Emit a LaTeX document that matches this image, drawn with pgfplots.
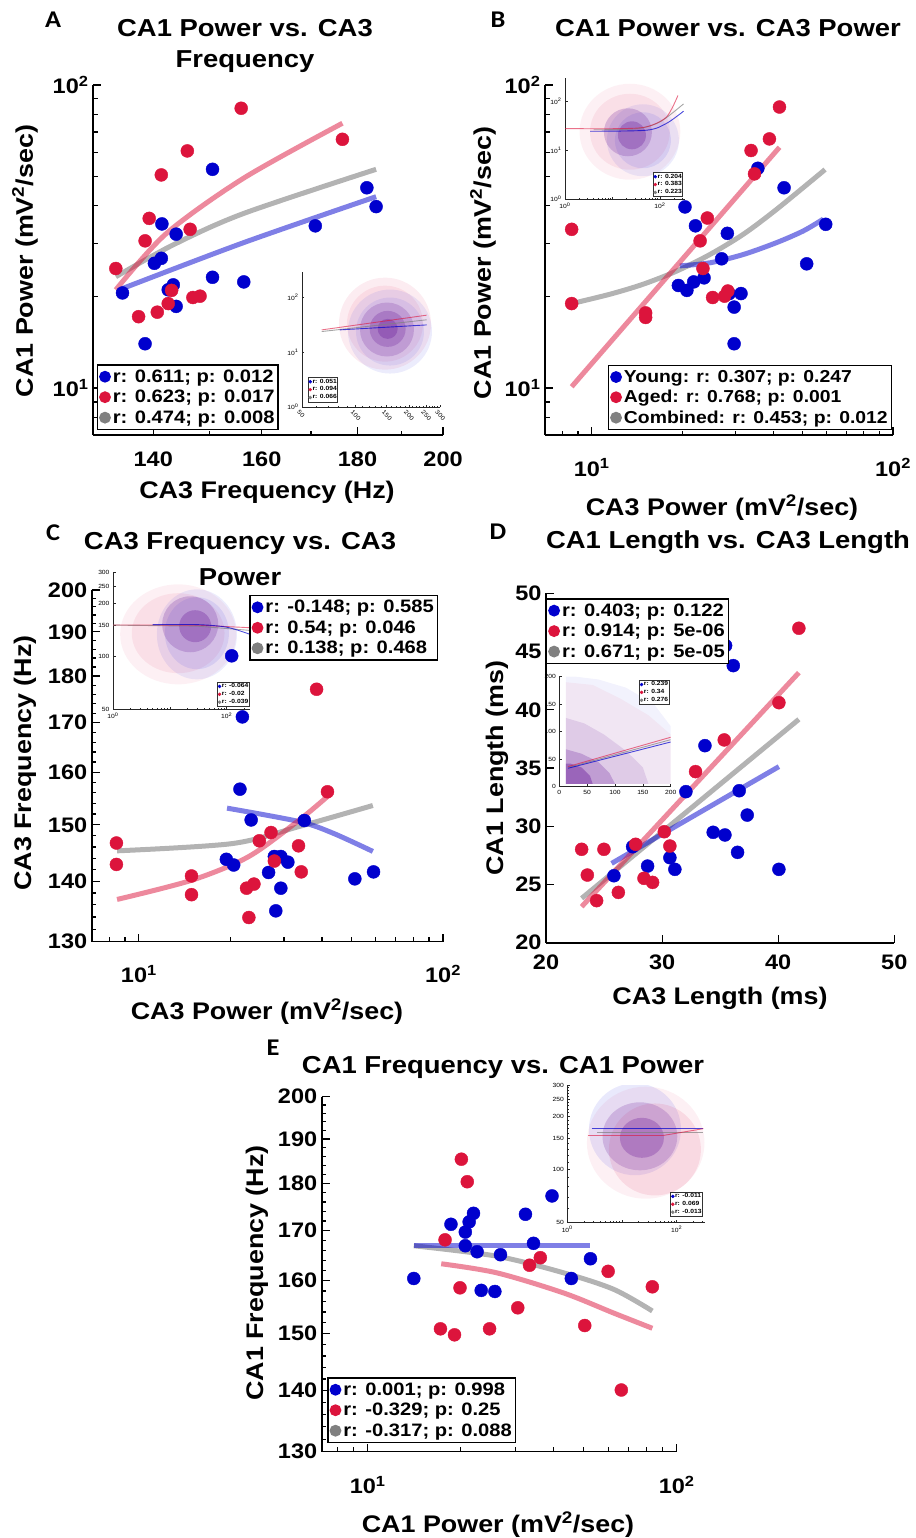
\documentclass[border=0pt]{standalone}
\usepackage{pgfplots}
\pgfplotsset{compat=1.18}
\usepackage{fontspec}
\setmainfont{Liberation Sans}[FakeStretch=1.12]
\newfontfamily\letterfont{Carlito}[FakeStretch=1.1]
\definecolor{myblue}{RGB}{0,0,205}
\definecolor{myred}{RGB}{220,20,60}
\definecolor{mygray}{RGB}{128,128,128}
\definecolor{cred}{RGB}{228,70,115}
\definecolor{cblue}{RGB}{70,70,228}
\definecolor{ccore}{RGB}{100,20,150}
\newcommand\ttl{\fontsize{24.5}{29}\selectfont\bfseries}
\newcommand\lbl{\fontsize{24}{28}\selectfont\bfseries}
\newcommand\tck{\fontsize{21}{24}\selectfont\bfseries}
\newcommand\lgd{\fontsize{18}{21}\selectfont\bfseries}
\newcommand\lgdb{\fontsize{17.3}{21}\selectfont\bfseries}
\newcommand\itk{\fontsize{6}{7}\selectfont}
\newcommand\ilg{\fontsize{6}{7}\selectfont\bfseries}
\newcommand\ltr{\fontsize{24}{27}\selectfont\letterfont\bfseries}
\pgfplotsset{
 mainax/.style={scale only axis, axis x line*=bottom, axis y line*=left,
   axis line style={line width=1.6pt, black}, tick align=inside,
   major tick length=8pt, minor tick length=4.5pt,
   every tick/.append style={line width=1.2pt, black},
   tick label style={font=\tck},
   xticklabel shift=9pt, yticklabel shift=1pt,
   legend cell align=left,
   legend image code/.code={\fill[##1] (0pt,0pt) circle (5.2pt);},
   legend style={font=\lgd, draw=black, line width=1.4pt, fill=white, inner sep=1.5pt, row sep=0pt,
      nodes={inner xsep=2pt, inner ysep=3.2pt}}},
 inax/.style={scale only axis, axis x line*=bottom, axis y line*=left,
   axis line style={line width=0.8pt, black!85}, tick align=inside,
   major tick length=2.5pt, minor tick length=1.4pt,
   every tick/.append style={line width=0.5pt, black!85},
   tick label style={font=\itk}, clip marker paths=true,
   legend cell align=left,
   legend image code/.code={\fill[##1] (0pt,0pt) circle (1.5pt);},
   legend style={font=\ilg, draw=black!80, line width=0.5pt, fill=white, inner sep=0.3pt, row sep=0pt,
      nodes={inner xsep=0.6pt, inner ysep=1.1pt}}},
 bp/.style={only marks, mark=*, mark size=6.5pt, color=myblue},
 rp/.style={only marks, mark=*, mark size=6.5pt, color=myred},
 fb/.style={no markers, line width=5pt, color=myblue, draw opacity=0.5, forget plot},
 fr/.style={no markers, line width=5pt, color=myred, draw opacity=0.5, forget plot},
 fg/.style={no markers, line width=5pt, color=mygray, draw opacity=0.6, forget plot},
 cl/.style n args={4}{only marks, mark=*, forget plot, mark size=#1, color=#2,
   mark options={draw opacity=0, line width=0pt, fill=#2, fill opacity=#3, xscale=#4}},
 ib/.style={no markers, line width=0.9pt, color=myblue, draw opacity=0.7, forget plot},
 ir/.style={no markers, line width=0.9pt, color=myred, draw opacity=0.6, forget plot},
 ig/.style={no markers, line width=0.9pt, color=mygray, draw opacity=0.7, forget plot},
}
\begin{document}
\begin{tikzpicture}
\path[use as bounding box] (0pt,0pt) rectangle (915pt,-1538pt);

% ---------------- insets (drawn first) ----------------
% Inset A
\begin{axis}[inax, at={(302pt,-407pt)}, anchor=south west, width=138pt, height=135pt,
 xmode=log, ymode=log, xmin=50, xmax=300, ymin=1, ymax=288,
 xtick={50,100,150,200,250,300}, xticklabels={50,100,150,200,250,300},
 xticklabel style={rotate=-45, anchor=north west, xshift=-3pt},
 minor xtick={60,70,80,90,110,120,130,140,160,170,180,190,210,220,230,240,260,270,280,290},
 ytick={1,10,100}, yticklabels={10\textsuperscript{0},10\textsuperscript{1},10\textsuperscript{2}},
 minor ytick={2,3,4,5,6,7,8,9,20,30,40,50,60,70,80,90,200},
 legend style={at={(0.043,0.037)}, anchor=south west}]
\addplot[cl={46pt}{cred}{0.1}{1}] coordinates {(146.9,33.0)};
\addplot[cl={38pt}{cred}{0.1}{1}] coordinates {(146.9,33.0)};
\addplot[cl={42pt}{cblue}{0.1}{1}] coordinates {(156.7,23.7)};
\addplot[cl={34pt}{cblue}{0.1}{1}] coordinates {(156.7,23.7)};
\addplot[cl={27pt}{ccore}{0.2}{1}] coordinates {(150.7,25.8)};
\addplot[cl={18pt}{ccore}{0.25}{1}] coordinates {(152,26.5)};
\addplot[cl={10pt}{ccore}{0.3}{1}] coordinates {(152,26.5)};
\addplot[ig] coordinates {(64.6,23.7) (252.3,38.8)};
\addplot[ib] coordinates {(81.8,25.4) (252.3,31.3)};
\addplot[ir] coordinates {(64.6,25.4) (252.3,47.1)};
\addlegendimage{only marks, mark=*, color=myblue}\addlegendentry{r: 0.051}
\addlegendimage{only marks, mark=*, color=myred}\addlegendentry{r: 0.094}
\addlegendimage{only marks, mark=*, color=mygray}\addlegendentry{r: 0.066}
\end{axis}

% Inset B
\begin{axis}[inax, at={(565pt,-199pt)}, anchor=south west, width=120pt, height=121pt,
 xmode=log, ymode=log, xmin=1, xmax=339, ymin=1, ymax=302,
 xtick={1,10,100}, xticklabels={10\textsuperscript{0},,10\textsuperscript{2}},
 minor xtick={2,3,4,5,6,7,8,9,20,30,40,50,60,70,80,90,200,300},
 ytick={1,10,100}, yticklabels={10\textsuperscript{0},10\textsuperscript{1},10\textsuperscript{2}},
 minor ytick={2,3,4,5,6,7,8,9,20,30,40,50,60,70,80,90,200,300},
 legend style={at={(0.983,0.017)}, anchor=south east}]
\addplot[cl={48pt}{cred}{0.08}{1.05}] coordinates {(23.4,23.9)};
\addplot[cl={38pt}{cred}{0.1}{1.05}] coordinates {(23.4,23.9)};
\addplot[cl={36pt}{cblue}{0.1}{1}] coordinates {(43.9,16.0)};
\addplot[cl={28pt}{cblue}{0.12}{1}] coordinates {(43.9,16.0)};
\addplot[cl={24pt}{ccore}{0.22}{1}] coordinates {(21.2,23.3)};
\addplot[cl={14pt}{ccore}{0.3}{1}] coordinates {(25.8,20.2)};
\addplot[ig, smooth] coordinates {(4,26.3) (31.6,27.5) (100,38.0) (316,89.1)};
\addplot[ib, smooth] coordinates {(3.4,24.5) (52.5,25.7) (138,35.5) (316,63.1)};
\addplot[ir, smooth] coordinates {(1,27.7) (14.4,27.7) (52.5,30.2) (138,47.9) (240,132)};
\addlegendimage{only marks, mark=*, color=myblue}\addlegendentry{r: 0.204}
\addlegendimage{only marks, mark=*, color=myred}\addlegendentry{r: 0.383}
\addlegendimage{only marks, mark=*, color=mygray}\addlegendentry{r: 0.223}
\end{axis}

% Inset C
\begin{axis}[inax, at={(113pt,-709.3pt)}, anchor=south west, width=137pt, height=137.3pt,
 xmode=log, ymode=log, xmin=1, xmax=257, ymin=50, ymax=300,
 xtick={1,10,100}, xticklabels={10\textsuperscript{0},,10\textsuperscript{2}},
 minor xtick={2,3,4,5,6,7,8,9,20,30,40,50,60,70,80,90,200},
 ytick={50,100,150,200,250,300}, yticklabels={50,100,150,200,250,300},
 minor ytick={60,70,80,90,110,120,130,140,160,170,180,190,210,220,230,240,260,270,280,290},
 legend style={at={(0.996,0.019)}, anchor=south east}]
\addplot[cl={50pt}{cred}{0.08}{1.16}] coordinates {(14.0,133)};
\addplot[cl={40pt}{cred}{0.1}{1.16}] coordinates {(14.0,135)};
\addplot[cl={45pt}{cblue}{0.1}{0.89}] coordinates {(29.9,133)};
\addplot[cl={36pt}{cblue}{0.12}{0.89}] coordinates {(29.9,135)};
\addplot[cl={28pt}{ccore}{0.22}{1}] coordinates {(22.8,151.7)};
\addplot[cl={16pt}{ccore}{0.3}{1}] coordinates {(27.9,147.9)};
\addplot[ig] coordinates {(1,150) (30,148) (257,140)};
\addplot[ir] coordinates {(1,150.3) (30,150) (257,145)};
\addplot[ib, smooth] coordinates {(5,151) (30,151) (100,146) (257,133)};
\addlegendimage{only marks, mark=*, color=myblue}\addlegendentry{r: -0.064}
\addlegendimage{only marks, mark=*, color=myred}\addlegendentry{r: -0.02}
\addlegendimage{only marks, mark=*, color=mygray}\addlegendentry{r: -0.039}
\end{axis}

% Inset D
\begin{axis}[inax, at={(559.3pt,-786.7pt)}, anchor=south west, width=111.4pt, height=110pt,
 xmin=0, xmax=200, ymin=0, ymax=200,
 xtick={0,50,100,150,200}, xticklabels={0,50,100,150,200},
 ytick={0,50,100,150,200}, yticklabels={0,50,100,150,200},
 legend style={at={(0.987,0.97)}, anchor=north east}]
\addplot[fill=cblue, fill opacity=0.07, draw=none, forget plot] coordinates {(12,5) (200,5) (200,110) (170,150) (120,180) (70,195) (30,200) (12,200)} -- cycle;
\addplot[fill=cred, fill opacity=0.07, draw=none, forget plot] coordinates {(12,5) (200,5) (200,95) (160,130) (110,160) (60,185) (12,190)} -- cycle;
\addplot[fill=ccore, fill opacity=0.13, draw=none, forget plot] coordinates {(12,5) (160,5) (150,35) (120,65) (80,95) (45,115) (12,125)} -- cycle;
\addplot[fill=ccore, fill opacity=0.25, draw=none, forget plot] coordinates {(12,5) (100,5) (90,25) (70,45) (40,60) (12,68)} -- cycle;
\addplot[fill=ccore, fill opacity=0.4, draw=none, forget plot] coordinates {(12,5) (60,5) (55,20) (40,35) (20,42) (12,42)} -- cycle;
\addplot[ig] coordinates {(16,35) (200,85.5)};
\addplot[ib] coordinates {(16,33.6) (200,81.3)};
\addplot[ir] coordinates {(16,36.7) (200,89.9)};
\addlegendimage{only marks, mark=*, color=myblue}\addlegendentry{r: 0.239}
\addlegendimage{only marks, mark=*, color=myred}\addlegendentry{r: 0.34}
\addlegendimage{only marks, mark=*, color=mygray}\addlegendentry{r: 0.276}
\end{axis}

% Inset E
\begin{axis}[inax, at={(567.3pt,-1222.7pt)}, anchor=south west, width=137.7pt, height=137.7pt,
 xmode=log, ymode=log, xmin=1, xmax=331, ymin=50, ymax=300,
 xtick={1,10,100}, xticklabels={10\textsuperscript{0},,10\textsuperscript{2}},
 minor xtick={2,3,4,5,6,7,8,9,20,30,40,50,60,70,80,90,200,300},
 ytick={50,100,150,200,250,300}, yticklabels={50,100,150,200,250,300},
 minor ytick={60,70,80,90,110,120,130,140,160,170,180,190,210,220,230,240,260,270,280,290},
 legend style={at={(0.983,0.044)}, anchor=south east}]
\addplot[cl={56pt}{cred}{0.08}{1.05}] coordinates {(27.2,141.6)};
\addplot[cl={46pt}{cblue}{0.12}{1}] coordinates {(17.3,168.7)};
\addplot[cl={46pt}{cred}{0.14}{1}] coordinates {(40.1,129.7)};
\addplot[cl={34pt}{ccore}{0.2}{1.1}] coordinates {(21.3,153.9)};
\addplot[cl={20pt}{ccore}{0.28}{1.1}] coordinates {(23.2,150.9)};
\addplot[ig] coordinates {(3.5,161) (309,161)};
\addplot[ib] coordinates {(2.8,170) (309,170)};
\addplot[ir] coordinates {(2.4,155.6) (56.9,155.6) (309,170)};
\addlegendimage{only marks, mark=*, color=myblue}\addlegendentry{r: -0.011}
\addlegendimage{only marks, mark=*, color=myred}\addlegendentry{r: 0.069}
\addlegendimage{only marks, mark=*, color=mygray}\addlegendentry{r: -0.013}
\end{axis}

% ---------------- Panel A ----------------
\begin{axis}[mainax, at={(93pt,-435pt)}, anchor=south west, width=350pt, height=350pt,
 xmode=log, ymode=log, xmin=130, xmax=200, ymin=7, ymax=100,
 xtick={140,160,180,200}, xticklabels={140,160,180,200}, minor xtick={130,150,170,190},
 xticklabel shift=13pt,
 ytick={10,100}, yticklabels={10\textsuperscript{1},10\textsuperscript{2}},
 minor ytick={7,8,9,20,30,40,50,60,70,80,90},
 legend style={at={(0.011,0.014)}, anchor=south west}]
\addplot[bp] coordinates {(134.8,20.6) (138.6,14.0) (141.5,34.8) (144.0,32.2) (140.2,25.8) (141.4,26.8) (142.6,21.1) (143.5,21.9) (144.0,18.6) (150.6,52.7) (150.6,23.2) (156.5,22.4) (170.9,34.3) (182.1,45.8) (184.2,39.7)};
\addlegendentry{r: 0.611; p: 0.012}
\addplot[rp] coordinates {(133.7,24.8) (137.5,17.2) (138.6,30.6) (139.3,36.3) (140.7,17.8) (141.4,50.5) (142.6,19.0) (143.2,21.0) (146.0,60.6) (146.5,33.4) (147.0,19.9) (148.3,20.1) (156.0,83.8) (176.7,66.2)};
\addlegendentry{r: 0.623; p: 0.017}
\addlegendimage{only marks, mark=*, color=mygray}
\addlegendentry{r: 0.474; p: 0.008}
\addplot[fg, smooth] coordinates {(133.7,23.3) (143.5,29.7) (156.5,37.7) (184.2,52.7)};
\addplot[fb, smooth] coordinates {(134.8,21.3) (156.5,30.2) (184.2,42.8)};
\addplot[fr, smooth] coordinates {(133.7,21.1) (142.3,32.4) (156.5,49.3) (176.7,74.8)};
\end{axis}

% ---------------- Panel B ----------------
\begin{axis}[mainax, at={(545pt,-435pt)}, anchor=south west, width=348pt, height=350pt,
 xmode=log, ymode=log, xmin=7, xmax=100, ymin=7, ymax=100,
 xtick={10,100}, xticklabels={10\textsuperscript{1},10\textsuperscript{2}},
 minor xtick={7,8,9,20,30,40,50,60,70,80,90}, xticklabel shift=20pt,
 ytick={10,100}, yticklabels={10\textsuperscript{1},10\textsuperscript{2}},
 minor ytick={7,8,9,20,30,40,50,60,70,80,90},
 legend style={at={(0.997,0.014)}, anchor=south east, font=\lgdb}]
\addplot[bp] coordinates {(20.4,39.6) (22.1,34.3) (19.4,21.8) (20.7,21.0) (21.8,22.4) (23.6,23.1) (27.0,26.7) (28.2,32.4) (28.6,20.5) (31.3,20.5) (29.7,18.5) (29.7,14.0) (35.6,53.1) (43.5,45.8) (51.7,25.7) (59.8,34.7)};
\addlegendentry{Young: r: 0.307; p: 0.247}
\addplot[rp] coordinates {(8.58,33.4) (8.58,19.0) (15.1,17.7) (15.1,17.1) (22.9,30.6) (24.2,36.4) (23.4,24.8) (25.2,19.9) (27.6,20.1) (28.3,20.9) (33.8,60.8) (34.7,50.9) (38.9,66.4) (42.0,84.6)};
\addlegendentry{Aged: r: 0.768; p: 0.001}
\addlegendimage{only marks, mark=*, color=mygray}
\addlegendentry{Combined: r: 0.453; p: 0.012}
\addplot[fg, smooth] coordinates {(8.58,19.0) (11.5,20.4) (14.8,22.0) (19.1,24.3) (24.7,27.6) (31.9,32.2) (41.1,38.9) (59.5,52.6)};
\addplot[fb, smooth] coordinates {(19.6,25.3) (24.7,25.9) (31.9,27.6) (41.1,30.2) (50.4,33.0) (58.7,36.1)};
\addplot[fr] coordinates {(8.58,10.1) (42.0,62.3)};
\end{axis}

% ---------------- Panel C ----------------
\begin{axis}[mainax, at={(91.7pt,-941.7pt)}, anchor=south west, width=351.3pt, height=351.7pt,
 xmode=log, ymode=log, xmin=7, xmax=100, ymin=130, ymax=200,
 xtick={10,100}, xticklabels={10\textsuperscript{1},10\textsuperscript{2}},
 minor xtick={7,8,9,20,30,40,50,60,70,80,90}, xticklabel shift=20pt,
 ytick={130,140,150,160,170,180,190,200}, yticklabels={130,140,150,160,170,180,190,200},
 minor ytick={132,134,136,138,142,144,146,148,152,154,156,158,162,164,166,168,172,174,176,178,182,184,186,188,192,194,196,198},
 legend style={at={(0.986,0.986)}, anchor=north east}]
\addplot[bp] coordinates {(20.2,184.5) (21.9,171.2) (21.5,156.7) (23.4,150.9) (19.4,143.8) (20.5,142.8) (26.7,141.5) (27.9,144.3) (29.3,144.3) (30.9,143.3) (29.3,138.8) (28.2,135.0) (35.0,150.8) (51.3,140.4) (59.1,141.6)};
\addlegendentry{r: -0.148; p: 0.585}
\addplot[rp] coordinates {(8.44,146.7) (8.44,142.9) (14.9,140.9) (14.9,137.7) (22.6,138.8) (23.9,139.5) (23.0,133.9) (24.9,147.1) (27.2,148.6) (27.9,143.5) (33.5,146.2) (34.2,141.6) (38.4,177.1) (41.7,156.2)};
\addlegendentry{r: 0.54; p: 0.046}
\addlegendimage{only marks, mark=*, color=mygray}
\addlegendentry{r: 0.138; p: 0.468}
\addplot[fg, smooth] coordinates {(8.48,145.3) (20.3,146.6) (33.7,149.7) (58.8,153.6)};
\addplot[fb, smooth] coordinates {(19.5,153.1) (33.7,150.6) (43.4,148.5) (58.8,145.2)};
\addplot[fr, smooth] coordinates {(8.48,136.9) (15.0,140.2) (23.0,144.3) (33.7,150.9) (41.7,155.3)};
\end{axis}

% ---------------- Panel D ----------------
\begin{axis}[mainax, at={(546pt,-942.7pt)}, anchor=south west, width=348.3pt, height=349.4pt,
 xmin=20, xmax=50, ymin=20, ymax=50,
 xtick={20,30,40,50}, xticklabels={20,30,40,50},
 ytick={20,25,30,35,40,45,50}, yticklabels={20,25,30,35,40,45,50},
 legend style={at={(0,0.986)}, anchor=north west}]
\addplot[bp] coordinates {(25.85,25.75) (27.46,28.24) (28.75,26.58) (30.67,27.30) (31.10,26.30) (32.05,32.97) (33.69,36.92) (34.40,29.48) (35.41,29.25) (35.18,45.57) (35.47,45.51) (36.13,43.79) (36.50,27.76) (36.64,33.05) (37.33,30.96) (40.06,26.30)};
\addlegendentry{r: 0.403; p: 0.122}
\addplot[rp] coordinates {(23.07,28.02) (23.56,25.81) (24.36,23.61) (24.99,28.02) (26.23,24.32) (27.72,28.45) (28.44,25.53) (29.18,25.18) (30.19,29.53) (30.67,28.30) (32.88,34.69) (35.35,37.41) (40.06,40.61) (41.78,47.00)};
\addlegendentry{r: 0.914; p: 5e-06}
\addlegendimage{only marks, mark=*, color=mygray}
\addlegendentry{r: 0.671; p: 5e-05}
\addplot[fg] coordinates {(23.07,23.81) (41.78,39.18)};
\addplot[fb] coordinates {(25.65,26.81) (40.06,35.12)};
\addplot[fr] coordinates {(23.07,23.09) (41.78,43.19)};
\end{axis}

% ---------------- Panel E ----------------
\begin{axis}[mainax, at={(321.7pt,-1451.7pt)}, anchor=south west, width=355pt, height=355pt,
 xmode=log, ymode=log, xmin=7.1, xmax=100, ymin=130, ymax=200,
 xtick={10,100}, xticklabels={10\textsuperscript{1},10\textsuperscript{2}},
 minor xtick={8,9,20,30,40,50,60,70,80,90}, xticklabel shift=21pt,
 ytick={130,140,150,160,170,180,190,200}, yticklabels={130,140,150,160,170,180,190,200},
 minor ytick={132,134,136,138,142,144,146,148,152,154,156,158,162,164,166,168,172,174,176,178,182,184,186,188,192,194,196,198},
 legend style={at={(0.016,0.024)}, anchor=south west}]
\addplot[bp] coordinates {(14.1,160.4) (18.6,171.3) (20.7,169.7) (21.3,171.8) (22.0,173.6) (20.7,166.9) (22.6,165.7) (23.3,158.1) (25.8,157.9) (26.9,165.1) (32.4,173.4) (34.4,167.4) (39.5,177.3) (45.6,160.4) (52.6,164.3)};
\addlegendentry{r: 0.001; p: 0.998}
\addplot[rp] coordinates {(17.2,150.9) (17.8,168.1) (19.1,149.8) (20.1,185.4) (21.0,180.4) (19.9,158.6) (24.8,150.9) (30.6,154.8) (33.4,163.0) (36.2,164.5) (50.4,151.5) (60.0,161.8) (66.2,140.1) (83.4,158.8)};
\addlegendentry{r: -0.329; p: 0.25}
\addlegendimage{only marks, mark=*, color=mygray}
\addlegendentry{r: -0.317; p: 0.088}
\addplot[fg, smooth] coordinates {(14.1,166.9) (26.2,164.8) (43.1,161.5) (62.6,158.3) (83.4,154.2)};
\addplot[fb] coordinates {(14.1,167.0) (52.6,167.0)};
\addplot[fr, smooth] coordinates {(17.3,163.3) (26.2,161.5) (43.1,157.6) (62.6,153.8) (83.4,151.0)};
\end{axis}

% ---------------- titles, labels, letters ----------------
\node[font=\ltr] at (53pt,-20pt) {A};
\node[font=\ltr] at (498pt,-20pt) {B};
\node[font=\ltr] at (53pt,-533pt) {C};
\node[font=\ltr] at (498pt,-532pt) {D};
\node[font=\ltr] at (273pt,-1048pt) {E};

\node[font=\ttl] at (245pt,-28pt) {CA1 Power vs. CA3};
\node[font=\ttl] at (245pt,-62pt) {Frequency};
\node[font=\ttl] at (728pt,-28pt) {CA1 Power vs. CA3 Power};
\node[font=\ttl] at (240pt,-543pt) {CA3 Frequency vs. CA3};
\node[font=\ttl] at (240pt,-577pt) {Power};
\node[font=\ttl] at (728pt,-542pt) {CA1 Length vs. CA3 Length};
\node[font=\ttl] at (503pt,-1067pt) {CA1 Frequency vs. CA1 Power};

\node[font=\lbl, rotate=90] at (25pt,-261pt) {CA1 Power (mV\textsuperscript{2}/sec)};
\node[font=\lbl] at (267pt,-492pt) {CA3 Frequency (Hz)};
\node[font=\lbl, rotate=90] at (483pt,-263pt) {CA1 Power (mV\textsuperscript{2}/sec)};
\node[font=\lbl] at (722pt,-508pt) {CA3 Power (mV\textsuperscript{2}/sec)};
\node[font=\lbl, rotate=90] at (25pt,-763pt) {CA3 Frequency (Hz)};
\node[font=\lbl] at (267pt,-1012pt) {CA3 Power (mV\textsuperscript{2}/sec)};
\node[font=\lbl, rotate=90] at (497pt,-768pt) {CA1 Length (ms)};
\node[font=\lbl] at (720pt,-998pt) {CA3 Length (ms)};
\node[font=\lbl, rotate=90] at (257pt,-1273pt) {CA1 Frequency (Hz)};
\node[font=\lbl] at (498pt,-1525pt) {CA1 Power (mV\textsuperscript{2}/sec)};
\end{tikzpicture}
\end{document}
